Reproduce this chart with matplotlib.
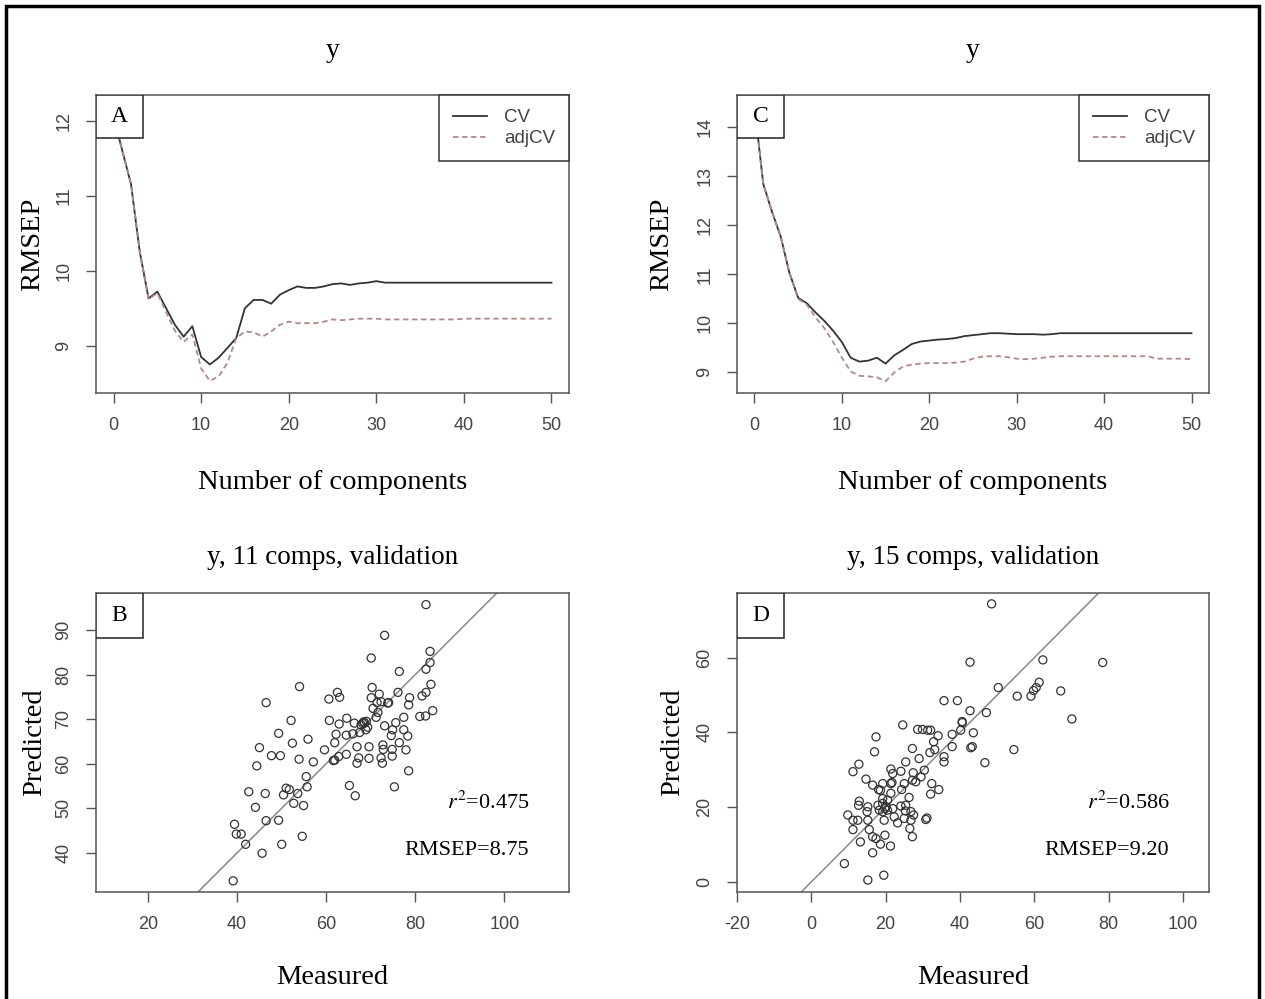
import numpy as np
import matplotlib
matplotlib.use("Agg")
import matplotlib.pyplot as plt
from matplotlib.patches import Rectangle

plt.rcParams['font.family'] = ['Liberation Serif', 'DejaVu Serif']
plt.rcParams['mathtext.fontset'] = 'stix'
plt.rcParams['axes.unicode_minus'] = False

# RMSEP vs number of components (panel A)
comps = np.arange(0, 51)
cv_a = [12.05, 11.6, 11.15, 10.25, 9.63, 9.72, 9.5, 9.28, 9.12, 9.26,
        8.85, 8.75, 8.84, 8.97, 9.1, 9.5, 9.61, 9.61, 9.56, 9.68,
        9.74, 9.79, 9.77, 9.77, 9.79, 9.82, 9.83, 9.81, 9.83, 9.84,
        9.86, 9.84, 9.84, 9.84, 9.84, 9.84, 9.84, 9.84, 9.84, 9.84,
        9.84, 9.84, 9.84, 9.84, 9.84, 9.84, 9.84, 9.84, 9.84, 9.84, 9.84]
adj_a = [12.05, 11.6, 11.15, 10.25, 9.62, 9.7, 9.45, 9.2, 9.05, 9.15,
         8.7, 8.53, 8.59, 8.77, 9.1, 9.19, 9.18, 9.12, 9.19, 9.28,
         9.32, 9.3, 9.3, 9.3, 9.32, 9.35, 9.34, 9.35, 9.36, 9.36,
         9.36, 9.35, 9.35, 9.35, 9.35, 9.35, 9.35, 9.35, 9.35, 9.35,
         9.36, 9.36, 9.36, 9.36, 9.36, 9.36, 9.36, 9.36, 9.36, 9.36, 9.36]

# RMSEP vs number of components (panel C)
cv_c = [14.43, 12.85, 12.28, 11.77, 11.03, 10.52, 10.41, 10.22, 10.05, 9.85,
        9.62, 9.3, 9.22, 9.24, 9.3, 9.18, 9.35, 9.46, 9.58, 9.63,
        9.65, 9.67, 9.68, 9.7, 9.74, 9.76, 9.78, 9.8, 9.8, 9.79,
        9.78, 9.78, 9.78, 9.77, 9.78, 9.8, 9.8, 9.8, 9.8, 9.8,
        9.8, 9.8, 9.8, 9.8, 9.8, 9.8, 9.8, 9.8, 9.8, 9.8, 9.8]
adj_c = [14.43, 12.85, 12.28, 11.77, 11.03, 10.5, 10.38, 10.12, 9.9, 9.62,
         9.3, 9.02, 8.93, 8.92, 8.9, 8.82, 9.0, 9.12, 9.16, 9.18,
         9.19, 9.19, 9.19, 9.2, 9.22, 9.28, 9.32, 9.33, 9.33, 9.31,
         9.28, 9.27, 9.28, 9.3, 9.32, 9.33, 9.33, 9.33, 9.33, 9.33,
         9.33, 9.33, 9.33, 9.33, 9.33, 9.33, 9.28, 9.28, 9.28, 9.28, 9.27]

# measured vs predicted, 11 comps (panel B)
meas_b = [82.4, 73.1, 70.1, 83.3, 83.3, 82.4, 76.4, 83.5, 82.4, 81.5,
          70.3, 71.9, 70.1, 76.1, 78.7, 78.5, 74.0, 73.8, 72.3, 70.5,
          54.0, 46.5, 60.6, 62.5, 63.0, 83.9, 82.3, 81.0, 77.4, 71.6,
          71.2, 68.4, 68.6, 67.8, 69.3, 68.9, 66.3, 64.6, 62.9, 60.7,
          52.1, 73.1, 75.6, 74.9, 78.3, 74.6, 67.5, 66.0, 64.5, 62.2,
          61.9, 66.9, 69.6, 72.7, 76.4, 77.9, 74.8, 72.8, 72.3, 74.8,
          72.6, 69.6, 67.3, 66.9, 64.5, 62.8, 61.9, 61.6, 59.6, 78.5,
          75.3, 65.2, 66.5, 55.9, 52.4, 49.3, 45.0, 47.7, 49.7, 44.4,
          53.9, 57.1, 55.5, 55.7, 51.0, 51.7, 50.4, 53.6, 52.7, 54.9,
          46.3, 42.6, 44.1, 46.5, 49.3, 39.4, 39.8, 40.9, 41.9, 45.6,
          50.0, 54.6, 39.1, 69.0, 68.2, 71.4, 77.4]
pred_b = [95.7, 88.8, 83.7, 85.2, 82.7, 81.2, 80.7, 77.8, 76.0, 75.2,
          77.1, 75.6, 74.8, 76.0, 74.8, 73.2, 73.7, 73.6, 73.9, 72.4,
          77.3, 73.7, 74.5, 76.0, 74.9, 71.9, 70.7, 70.6, 70.4, 71.5,
          70.4, 69.4, 69.1, 68.7, 68.2, 67.6, 69.1, 70.2, 68.9, 69.7,
          69.7, 68.5, 69.2, 67.6, 66.2, 66.3, 67.0, 66.7, 66.4, 66.6,
          64.7, 63.8, 63.8, 64.2, 64.7, 63.1, 63.2, 63.2, 61.3, 61.7,
          60.1, 61.2, 61.3, 60.1, 62.1, 61.6, 60.8, 60.7, 63.1, 58.4,
          54.8, 55.1, 52.8, 65.5, 64.6, 66.8, 63.6, 61.8, 61.8, 59.5,
          61.0, 60.4, 57.1, 54.8, 54.5, 54.2, 53.0, 53.3, 51.1, 50.6,
          53.3, 53.7, 50.2, 47.2, 47.3, 46.4, 44.2, 44.2, 41.9, 39.9,
          41.9, 43.7, 33.7, 69.5, 69.0, 73.7, 67.6]

# measured vs predicted, 15 comps (panel D)
meas_d = [48.5, 42.7, 62.3, 78.4, 61.3, 60.5, 59.8, 59.1, 55.4, 67.1,
          70.1, 50.3, 35.7, 39.3, 42.7, 47.1, 40.6, 40.2, 37.9, 43.6,
          42.9, 43.3, 46.7, 54.5, 37.9, 35.7, 35.7, 33.2, 31.9, 34.1,
          32.1, 29.9, 28.6, 32.9, 24.6, 17.4, 17.0, 27.2, 29.0, 25.4,
          30.4, 27.4, 24.1, 21.4, 21.9, 29.5, 27.2, 28.1, 25.0, 21.4,
          21.7, 24.3, 21.4, 18.1, 16.5, 14.7, 12.8, 11.2, 32.4, 34.3,
          12.9, 12.7, 15.2, 17.9, 19.2, 20.1, 19.8, 20.5, 19.2, 18.3,
          21.9, 24.1, 25.4, 25.3, 26.8, 27.5, 25.0, 22.3, 19.6, 23.2,
          26.8, 31.1, 30.8, 9.8, 11.2, 12.5, 15.0, 15.2, 11.2, 15.6,
          16.5, 17.4, 18.6, 19.8, 21.3, 26.5, 27.2, 13.2, 16.5, 8.9,
          15.2, 19.5, 40.6, 31.3, 18.6, 20.5, 26.3, 19.2, 19.2, 32.1]
pred_d = [74.4, 58.8, 59.4, 58.7, 53.4, 52.0, 51.2, 49.7, 49.7, 51.1,
          43.6, 52.0, 48.5, 48.5, 45.8, 45.3, 42.9, 40.6, 39.5, 39.9,
          35.9, 36.2, 31.9, 35.4, 36.2, 33.5, 32.1, 35.4, 34.6, 39.1,
          40.6, 40.8, 40.8, 37.5, 42.0, 38.8, 34.8, 35.7, 33.0, 32.1,
          29.9, 29.2, 29.6, 30.2, 29.0, 28.1, 27.2, 26.8, 26.3, 26.3,
          26.6, 24.7, 23.7, 24.7, 25.9, 27.5, 31.5, 29.5, 26.3, 24.7,
          21.6, 20.5, 20.1, 20.5, 21.0, 20.1, 19.6, 19.2, 18.8, 19.2,
          19.6, 20.3, 20.5, 19.0, 18.8, 17.9, 17.0, 17.4, 16.5, 15.8,
          16.5, 17.1, 16.7, 17.9, 16.5, 16.5, 18.8, 16.5, 14.0, 14.0,
          12.1, 11.6, 10.1, 12.5, 9.6, 14.3, 12.1, 10.7, 7.8, 4.9,
          0.5, 1.8, 42.6, 40.6, 24.5, 21.9, 22.6, 26.3, 22.3, 23.5]

W, H = 1265, 999
fig = plt.figure(figsize=(W / 100, H / 100), dpi=100)


def px_ax(x0, y0, x1, y1):
    return fig.add_axes([x0 / W, 1 - y1 / H, (x1 - x0) / W, (y1 - y0) / H])


tick_family = ['Liberation Sans Narrow', 'Liberation Sans', 'DejaVu Sans']
spine_col = '#555555'


def style(ax, letter, box_h):
    for s in ax.spines.values():
        s.set_color(spine_col)
        s.set_linewidth(1.1)
    ax.tick_params(direction='out', length=7, width=1.0, color=spine_col,
                   labelsize=13, labelcolor='#444444', pad=10)
    for lab in ax.get_xticklabels() + ax.get_yticklabels():
        lab.set_fontfamily(tick_family)
    for lab in ax.get_yticklabels():
        lab.set_rotation(90)
        lab.set_va('center')
    w = 47 / 473
    ax.add_patch(Rectangle((0, 1 - box_h), w, box_h, transform=ax.transAxes,
                           fill=False, edgecolor='#222222', lw=1.1, zorder=5))
    ax.add_patch(Rectangle((0, 1 - box_h), w, box_h, transform=ax.transAxes,
                           facecolor='white', edgecolor='none', zorder=4))
    ax.text(w / 2, 1 - box_h / 2, letter, transform=ax.transAxes, ha='center',
            va='center', fontsize=17, zorder=6)


def rmsep_panel(ax, cv, adj, ylim, yticks, letter, ylab_x):
    ax.plot(comps, cv, color='#333333', lw=1.3, label='CV')
    ax.plot(comps, adj, color='#b08a8a', lw=1.3, ls=(0, (3, 2)), label='adjCV')
    ax.set_xlim(-2, 52)
    ax.set_ylim(*ylim)
    ax.set_xticks(range(0, 51, 10))
    ax.set_yticks(yticks)
    leg = ax.legend(loc='upper right', borderaxespad=0, fancybox=False,
                    edgecolor='#333333', framealpha=1,
                    prop=dict(family=['Liberation Sans', 'DejaVu Sans'], size=13.5),
                    handlelength=1.8, handletextpad=0.9, borderpad=0.75,
                    labelspacing=0.2)
    leg.get_frame().set_linewidth(1.1)
    for t in leg.get_texts():
        t.set_color('#444444')
    style(ax, letter, 43 / 298)
    ax.text(0.5, 1.148, 'y', transform=ax.transAxes, ha='center', va='center',
            fontsize=20)
    ax.text(0.5, -0.3, 'Number of components', transform=ax.transAxes,
            ha='center', va='center', fontsize=20.5)
    ax.text(ylab_x, 0.5, 'RMSEP', transform=ax.transAxes, rotation=90,
            ha='center', va='center', fontsize=20.5)


def pred_panel(ax, meas, pred, xlim, ylim, xticks, yticks, letter, title, r2,
               rmsep, ylab_x):
    ax.axline((0, 0), slope=1, color='#888888', lw=1.1)
    ax.scatter(meas, pred, s=34, facecolors='none', edgecolors='#333333',
               linewidths=0.9, zorder=3)
    ax.set_xlim(*xlim)
    ax.set_ylim(*ylim)
    ax.set_xticks(xticks)
    ax.set_yticks(yticks)
    style(ax, letter, 45 / 298)
    ax.text(0.5, 1.118, title, transform=ax.transAxes, ha='center', va='center',
            fontsize=19.5)
    ax.text(ylab_x, 0.5, 'Predicted', transform=ax.transAxes, rotation=90,
            ha='center', va='center', fontsize=20.5)
    ax.text(0.5, -0.285, 'Measured', transform=ax.transAxes, ha='center',
            va='center', fontsize=20.5)
    ax.text(0.742, 0.3, r'$r^2$=' + r2, transform=ax.transAxes, ha='left',
            va='center', fontsize=16)
    ax.text(0.652, 0.14, 'RMSEP=' + rmsep, transform=ax.transAxes, ha='left',
            va='center', fontsize=16)


ax_a = px_ax(96, 95, 569, 393)
ax_c = px_ax(737, 95, 1209, 393)
ax_b = px_ax(96, 593, 569, 892)
ax_d = px_ax(737, 593, 1209, 892)

rmsep_panel(ax_a, cv_a, adj_a, (8.37, 12.34), [9, 10, 11, 12], 'A', -0.133)
rmsep_panel(ax_c, cv_c, adj_c, (8.58, 14.66), [9, 10, 11, 12, 13, 14], 'C', -0.159)
pred_panel(ax_b, meas_b, pred_b, (8.3, 114.5), (31.2, 98.3), range(20, 101, 20),
           range(40, 91, 10), 'B', 'y, 11 comps, validation', '0.475', '8.75',
           -0.129)
pred_panel(ax_d, meas_d, pred_d, (-19.65, 107), (-2.7, 77.3), range(-20, 101, 20),
           range(0, 61, 20), 'D', 'y, 15 comps, validation', '0.586', '9.20',
           -0.137)

# outer frame of the figure
fig.add_artist(Rectangle((6 / W, -0.02), (1259 - 6) / W, 1.02 - 6 / H,
                         transform=fig.transFigure, fill=False, edgecolor='black',
                         lw=2.5, clip_on=False))

fig.savefig('out.png', dpi=100)
